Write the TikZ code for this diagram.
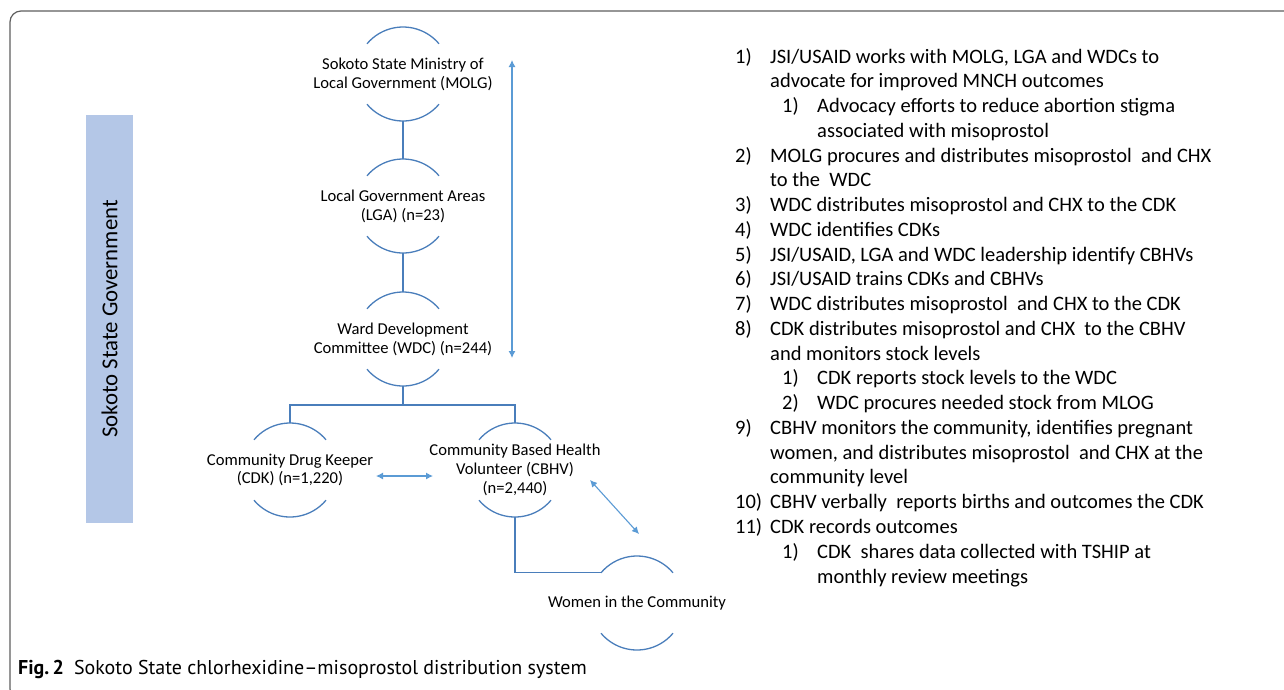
\documentclass[tikz,border=0pt]{standalone}
\usepackage{fontspec}
\setmainfont{Carlito}
\newfontfamily\capfont{PT Sans}
\usetikzlibrary{arrows.meta}
\definecolor{treeblue}{RGB}{74,126,187}
\definecolor{arrblue}{RGB}{91,155,213}
\definecolor{barblue}{RGB}{180,199,231}
\definecolor{framegray}{RGB}{95,95,95}
\tikzset{
  treeline/.style={draw=treeblue, line width=1.3pt},
  arcst/.style={draw=treeblue, line width=1.3pt},
  dblarrow/.style={draw=arrblue, line width=1.1pt, {Latex[length=7pt,width=7pt]}-{Latex[length=7pt,width=7pt]}},
  orgtxt/.style={align=center, inner sep=0pt, font=\fontsize{16.6}{18.8}\selectfont},
  numtxt/.style={anchor=base west, inner sep=0pt, font=\fontsize{20.5}{24.7}\selectfont},
  listtxt/.style={anchor=base west, inner sep=0pt, font=\fontsize{20.5}{24.7}\selectfont},
}
\newcommand\ringarcs[1]{%
  \draw[arcst] ([shift={(40:47pt)}]#1.center) arc[start angle=40, end angle=140, radius=47pt];
  \draw[arcst] ([shift={(220:47pt)}]#1.center) arc[start angle=220, end angle=320, radius=47pt];
}
\begin{document}
\begin{tikzpicture}[x=1pt,y=-1pt]
\clip (0,0) rectangle (1284,689);
\fill[white] (0,0) rectangle (1284,689);
% frame
\draw[framegray, line width=1.2pt, rounded corners=11pt] (10,11) rectangle (1310,700);

% side bar
\node[fill=barblue, minimum width=47pt, minimum height=408pt, inner sep=0pt] (bar) at (109.5,319) {};
\node[rotate=90, inner sep=0pt, font=\fontsize{22.8}{26}\selectfont] (bartxt) at (bar.center) {Sokoto State Government};

% org nodes
\node[orgtxt] (molg) at (403,74) {Sokoto State Ministry of\\Local Government (MOLG)};
\node[orgtxt] (lga) at (403,206) {Local Government Areas\\(LGA) (n=23)};
\node[orgtxt] (wdc) at (403,339) {Ward Development\\Committee (WDC) (n=244)};
\node[orgtxt] (cdk) at (290,470) {Community Drug Keeper\\(CDK) (n=1,220)};
\node[orgtxt] (cbhv) at (515,470) {Community Based Health\\Volunteer (CBHV)\\(n=2,440)};
\node[orgtxt] (women) at (637,603) {Women in the Community};
\ringarcs{molg}
\ringarcs{lga}
\ringarcs{wdc}
\ringarcs{cdk}
\ringarcs{cbhv}
\ringarcs{women}

% tree connectors
\draw[treeline] ([yshift=-47pt]molg.center) -- ([yshift=47pt]lga.center);
\draw[treeline] ([yshift=-47pt]lga.center) -- ([yshift=47pt]wdc.center);
\coordinate (split) at (403,405);
\draw[treeline] ([yshift=-47pt]wdc.center) -- (split);
\draw[treeline] ([yshift=47pt]cdk.center) |- (split) -| ([yshift=47pt]cbhv.center);
\draw[treeline] ([yshift=-47pt]cbhv.center) |- ([shift={(140:47pt)}]women.center);

% arrows
\coordinate (vtop) at (512,60);
\coordinate (vbot) at (512,358);
\draw[dblarrow] (vtop) -- (vbot);
\coordinate (hl) at (376,476);
\coordinate (hr) at (433,476);
\draw[dblarrow] (hl) -- (hr);
\coordinate (dl) at (590,480);
\coordinate (dr) at (639,534);
\draw[dblarrow] (dl) -- (dr);

% list
\node[numtxt] (n1) at (735,63) {1)};
\node[listtxt] (l1) at (770,63) {JSI/USAID works with MOLG, LGA and WDCs to};
\node[listtxt] (l2) at (770,87.8) {advocate for improved MNCH outcomes};
\node[numtxt] (n1a) at (782,112.5) {1)};
\node[listtxt] (l3) at (817,112.5) {Advocacy efforts to reduce abortion stigma};
\node[listtxt] (l4) at (817,137.3) {associated with misoprostol};
\node[numtxt] (n2) at (735,162) {2)};
\node[listtxt] (l5) at (770,162) {MOLG procures and distributes misoprostol\ \ and CHX};
\node[listtxt] (l6) at (770,186.8) {to the\ \ WDC};
\node[numtxt] (n3) at (735,211.6) {3)};
\node[listtxt] (l7) at (770,211.6) {WDC distributes misoprostol and CHX to the CDK};
\node[numtxt] (n4) at (735,236.3) {4)};
\node[listtxt] (l8) at (770,236.3) {WDC identifies CDKs};
\node[numtxt] (n5) at (735,261.1) {5)};
\node[listtxt] (l9) at (770,261.1) {JSI/USAID, LGA and WDC leadership identify CBHVs};
\node[numtxt] (n6) at (735,285.8) {6)};
\node[listtxt] (l10) at (770,285.8) {JSI/USAID trains CDKs and CBHVs};
\node[numtxt] (n7) at (735,310.6) {7)};
\node[listtxt] (l11) at (770,310.6) {WDC distributes misoprostol\ \ and CHX to the CDK};
\node[numtxt] (n8) at (735,335.4) {8)};
\node[listtxt] (l12) at (770,335.4) {CDK distributes misoprostol and CHX\ \ to the CBHV};
\node[listtxt] (l13) at (770,360.1) {and monitors stock levels};
\node[numtxt] (n8a) at (782,384.9) {1)};
\node[listtxt] (l14) at (817,384.9) {CDK reports stock levels to the WDC};
\node[numtxt] (n8b) at (782,409.6) {2)};
\node[listtxt] (l15) at (817,409.6) {WDC procures needed stock from MLOG};
\node[numtxt] (n9) at (735,434.4) {9)};
\node[listtxt] (l16) at (770,434.4) {CBHV monitors the community, identifies pregnant};
\node[listtxt] (l17) at (770,459.2) {women, and distributes misoprostol\ \ and CHX at the};
\node[listtxt] (l18) at (770,483.9) {community level};
\node[numtxt] (n10) at (735,508.7) {10)};
\node[listtxt] (l19) at (770,508.7) {CBHV verbally\ \ reports births and outcomes the CDK};
\node[numtxt] (n11) at (735,533.4) {11)};
\node[listtxt] (l20) at (770,533.4) {CDK records outcomes};
\node[numtxt] (n11a) at (782,558.2) {1)};
\node[listtxt] (l21) at (817,558.2) {CDK\ \ shares data collected with TSHIP at};
\node[listtxt] (l22) at (817,583) {monthly review\ meetings};

% caption
\node[anchor=base west, inner sep=0pt, font=\capfont\fontsize{20}{22}\selectfont] (cap) at (18,674)
  {\textbf{Fig.\,2}\hspace{0.5em}Sokoto State chlorhexidine–misoprostol distribution system};
\end{tikzpicture}
\end{document}
